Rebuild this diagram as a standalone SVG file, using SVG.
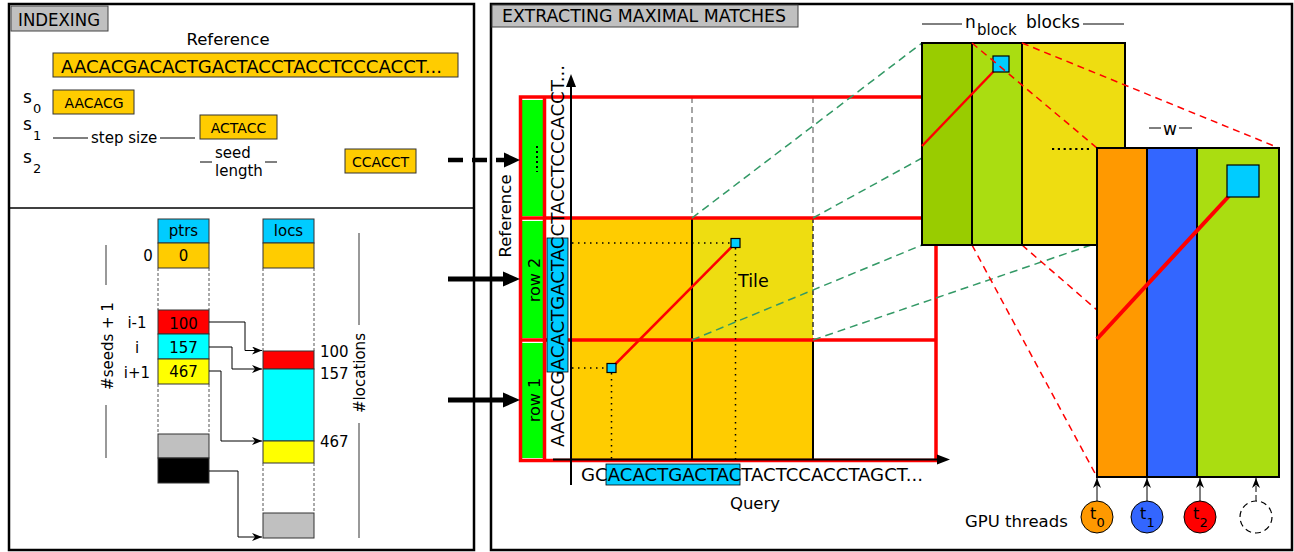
<svg xmlns="http://www.w3.org/2000/svg" width="1294" height="552" viewBox="0 0 1294 552">
<style>
text{font-family:"DejaVu Sans","Liberation Sans",sans-serif;fill:#000}
.panel{fill:none;stroke:#000;stroke-width:2.5}
.tag{fill:#c0c0c0;stroke:#444;stroke-width:1}
.seq{fill:#ffcc00;stroke:#333;stroke-width:1}
.cell{stroke:#333;stroke-width:1}
.dash{stroke:#555;stroke-width:1;stroke-dasharray:3,2;fill:none}
.thin{stroke:#000;stroke-width:1;fill:none}
.dim{stroke:#555;stroke-width:1.2}
.red{stroke:#ff0000;stroke-width:3.5;fill:none}
.dot{stroke:#000;stroke-width:1.5;stroke-dasharray:1.5,4.5;fill:none}
.gdash{stroke:#339966;stroke-width:1.5;stroke-dasharray:8,5;fill:none}
.rdash{stroke:#ff0000;stroke-width:1.5;stroke-dasharray:7,5;fill:none}
.blk{stroke:#000;stroke-width:2}
.sq{fill:#00ccff;stroke:#000;stroke-width:1.2}
</style>
<defs>
<marker id="ah" markerUnits="userSpaceOnUse" markerWidth="10" markerHeight="8" refX="10" refY="4" orient="auto">
<path d="M0,0 L10,4 L0,8 L3,4 z" fill="#000"/>
</marker>
</defs>

<!-- panels -->
<g id="indexing-panel">
<rect x="9" y="4" width="465" height="546" class="panel"/>
<line x1="9" y1="208" x2="474" y2="208" stroke="#000" stroke-width="1.5"/>
<rect x="11" y="6" width="97" height="25" class="tag"/>
<text x="18" y="26" font-size="17.5" textLength="82" lengthAdjust="spacingAndGlyphs">INDEXING</text>
</g>
<g id="matches-panel">
<rect x="491" y="4" width="801" height="546" class="panel"/>
<rect x="492" y="5" width="306" height="22" class="tag"/>
<text x="502" y="22" font-size="17.5" textLength="284" lengthAdjust="spacingAndGlyphs">EXTRACTING MAXIMAL MATCHES</text>
</g>

<!-- reference & seeds -->
<g id="reference">
<text x="228" y="45" font-size="16.5" text-anchor="middle">Reference</text>
<rect x="53" y="53" width="405" height="24" class="seq"/>
<text x="61" y="73" font-size="17.5" textLength="381" lengthAdjust="spacingAndGlyphs">AACACGACACTGACTACCTACCTCCCACCT...</text>
</g>
<g id="seed-s0">
<text x="23" y="103" font-size="17">s</text><text x="33" y="113" font-size="13">0</text>
<rect x="53" y="90" width="81" height="24" class="seq"/>
<text x="94" y="108" font-size="14" text-anchor="middle">AACACG</text>
</g>
<g id="seed-s1">
<text x="23" y="130" font-size="17">s</text><text x="33" y="140" font-size="13">1</text>
<rect x="200" y="115" width="77" height="24" class="seq"/>
<text x="238.5" y="133" font-size="14" text-anchor="middle">ACTACC</text>
</g>
<g id="seed-s2">
<text x="23" y="163" font-size="17">s</text><text x="33" y="173" font-size="13">2</text>
<rect x="345" y="149" width="71" height="24" class="seq"/>
<text x="380.5" y="167" font-size="14" text-anchor="middle">CCACCT</text>
</g>
<g id="step-size">
<line x1="53" y1="138" x2="88" y2="138" class="thin"/>
<text x="91" y="143" font-size="15">step size</text>
<line x1="160" y1="138" x2="195" y2="138" class="thin"/>
</g>
<g id="seed-length">
<line x1="200" y1="162" x2="212" y2="162" class="thin"/>
<text x="215" y="158" font-size="15">seed</text>
<text x="215" y="176" font-size="15">length</text>
<line x1="265" y1="162" x2="277" y2="162" class="thin"/>
</g>

<!-- ptrs column -->
<g id="ptrs">
<rect x="158" y="219" width="51" height="24" class="cell" fill="#00ccff"/>
<text x="183.5" y="236" font-size="15" text-anchor="middle">ptrs</text>
<rect x="158" y="243" width="51" height="25" class="cell" fill="#ffcc00"/>
<text x="183.5" y="261" font-size="15" text-anchor="middle">0</text>
<line x1="158" y1="268" x2="158" y2="310" class="dash"/><line x1="209" y1="268" x2="209" y2="310" class="dash"/>
<rect x="158" y="310" width="51" height="24" class="cell" fill="#ff0000"/>
<text x="183.5" y="329" font-size="15" text-anchor="middle">100</text>
<rect x="158" y="334" width="51" height="25" class="cell" fill="#00ffff"/>
<text x="183.5" y="353" font-size="15" text-anchor="middle">157</text>
<rect x="158" y="359" width="51" height="25" class="cell" fill="#ffff00"/>
<text x="183.5" y="377" font-size="15" text-anchor="middle">467</text>
<line x1="158" y1="384" x2="158" y2="434" class="dash"/><line x1="209" y1="384" x2="209" y2="434" class="dash"/>
<rect x="158" y="434" width="51" height="24" class="cell" fill="#c0c0c0"/>
<rect x="158" y="458" width="51" height="25" class="cell" fill="#000"/>
<text x="148" y="261" font-size="15" text-anchor="middle">0</text>
<text x="137" y="328" font-size="15" text-anchor="middle">i-1</text>
<text x="137" y="353" font-size="15" text-anchor="middle">i</text>
<text x="137" y="378" font-size="15" text-anchor="middle">i+1</text>
<line x1="106" y1="245" x2="106" y2="285" class="dim"/>
<line x1="106" y1="405" x2="106" y2="458" class="dim"/>
<text transform="translate(113,346) rotate(-90)" font-size="15" text-anchor="middle">#seeds + 1</text>
</g>

<!-- locs column -->
<g id="locs">
<rect x="263" y="219" width="51" height="24" class="cell" fill="#00ccff"/>
<text x="288.5" y="236" font-size="15" text-anchor="middle">locs</text>
<rect x="263" y="243" width="51" height="25" class="cell" fill="#ffcc00"/>
<line x1="263" y1="268" x2="263" y2="351" class="dash"/><line x1="314" y1="268" x2="314" y2="351" class="dash"/>
<rect x="263" y="351" width="51" height="18" class="cell" fill="#ff0000"/>
<rect x="263" y="369" width="51" height="72" class="cell" fill="#00ffff"/>
<rect x="263" y="441" width="51" height="22" class="cell" fill="#ffff00"/>
<line x1="263" y1="463" x2="263" y2="513" class="dash"/><line x1="314" y1="463" x2="314" y2="513" class="dash"/>
<rect x="263" y="513" width="51" height="25" class="cell" fill="#c0c0c0"/>
<text x="320" y="357" font-size="15">100</text>
<text x="320" y="379" font-size="15">157</text>
<text x="320" y="447" font-size="15">467</text>
<line x1="359" y1="233" x2="359" y2="325" class="dim"/>
<line x1="359" y1="423" x2="359" y2="538" class="dim"/>
<text transform="translate(365,373) rotate(-90)" font-size="15" text-anchor="middle">#locations</text>
</g>

<!-- grid -->
<g id="grid">
<rect x="572" y="218" width="241" height="242" fill="#ffcc00"/>
<rect x="692" y="218" width="121" height="122" fill="#eedd11"/>
<line x1="692" y1="97" x2="692" y2="218" stroke="#888" stroke-width="1.5" stroke-dasharray="6,4"/>
<line x1="813" y1="97" x2="813" y2="218" stroke="#888" stroke-width="1.5" stroke-dasharray="6,4"/>
<line x1="936" y1="97" x2="936" y2="460" stroke="#888" stroke-width="1.5" stroke-dasharray="6,4"/>
<line x1="692" y1="218" x2="692" y2="460" class="blk"/>
<line x1="813" y1="340" x2="813" y2="460" class="blk"/>
<line x1="813" y1="218" x2="813" y2="340" stroke="#333" stroke-width="1.5" stroke-dasharray="5,3"/>
<rect x="522" y="100" width="21" height="116" fill="#00ff00"/>
<rect x="522" y="221" width="21" height="117" fill="#00ff00"/>
<rect x="522" y="343" width="21" height="115" fill="#00ff00"/>
<rect x="520.5" y="97" width="415.5" height="363.5" class="red"/>
<line x1="544.5" y1="97" x2="544.5" y2="460" class="red"/>
<line x1="520" y1="218" x2="936" y2="218" class="red"/>
<line x1="520" y1="340" x2="936" y2="340" class="red"/>
<line x1="537" y1="146" x2="537" y2="172" stroke="#000" stroke-width="2" stroke-dasharray="2,3"/>
<text transform="translate(540,280) rotate(-90)" font-size="16" text-anchor="middle">row 2</text>
<text transform="translate(540,400) rotate(-90)" font-size="16" text-anchor="middle">row 1</text>
<rect x="547" y="238" width="21" height="134" fill="#00ccff" stroke="#000" stroke-width="0.8"/>
<text transform="translate(564,447) rotate(-90)" font-size="17.5" textLength="382" lengthAdjust="spacingAndGlyphs">AACACGACACTGACTACCTACCTCCCACCT...</text>
<text transform="translate(511,216) rotate(-90)" font-size="16.5" text-anchor="middle">Reference</text>
<line x1="571" y1="485" x2="571" y2="86" class="blk"/>
<polygon points="571,74 566,87 576,87" fill="#000"/>
<line x1="553" y1="459.5" x2="938" y2="459.5" class="blk"/>
<polygon points="950,459.5 937,454.5 937,464.5" fill="#000"/>
<line x1="572" y1="243" x2="731" y2="243" class="dot"/>
<line x1="735.5" y1="248" x2="735.5" y2="459" class="dot"/>
<line x1="572" y1="368" x2="607" y2="368" class="dot"/>
<line x1="611.5" y1="373" x2="611.5" y2="459" class="dot"/>
<line x1="611.5" y1="368" x2="735.5" y2="243" stroke="#ff0000" stroke-width="2.5"/>
<rect x="731" y="238.5" width="9" height="9" class="sq"/>
<rect x="607" y="363.5" width="9" height="9" class="sq"/>
<text x="738" y="287" font-size="17.5">Tile</text>
<rect x="606" y="464" width="134" height="21" fill="#00ccff" stroke="#000" stroke-width="0.8"/>
<text x="581" y="481" font-size="17.5" textLength="342" lengthAdjust="spacingAndGlyphs">GCACACTGACTACTACTCCACCTAGCT...</text>
<text x="755" y="509" font-size="16.5" text-anchor="middle">Query</text>
</g>

<!-- connectors -->
<g id="connectors">
<line x1="448" y1="160" x2="506" y2="160" stroke="#000" stroke-width="4.5" stroke-dasharray="15,9"/>
<polygon points="520,160 504,152.5 504,167.5" fill="#000"/>
<line x1="448" y1="279" x2="506" y2="279" stroke="#000" stroke-width="5"/>
<polygon points="520,279 503,271.5 503,286.5" fill="#000"/>
<line x1="448" y1="400" x2="506" y2="400" stroke="#000" stroke-width="5"/>
<polygon points="520,400 503,392.5 503,407.5" fill="#000"/>
<polyline points="209,322 245,322 245,350.5 262,350.5" class="thin" marker-end="url(#ah)"/>
<polyline points="209,347 232,347 232,369 262,369" class="thin" marker-end="url(#ah)"/>
<polyline points="209,371 221,371 221,441 262,441" class="thin" marker-end="url(#ah)"/>
<polyline points="209,471 238,471 238,537 262,537" class="thin" marker-end="url(#ah)"/>
<line x1="692" y1="218" x2="922" y2="43" class="gdash"/>
<line x1="813" y1="218" x2="922" y2="158" class="gdash"/>
<line x1="692" y1="340" x2="922" y2="245" class="gdash"/>
<line x1="813" y1="340" x2="1097" y2="243" class="gdash"/>
<line x1="972" y1="245" x2="1097" y2="477" class="rdash"/>
<line x1="1022" y1="245" x2="1097" y2="310" class="rdash"/>
</g>

<!-- block of threads -->
<g id="block">
<rect x="922" y="43" width="50" height="202" fill="#99cc00" class="blk"/>
<rect x="972" y="43" width="50" height="202" fill="#aadd11" class="blk"/>
<rect x="1022" y="43" width="103" height="202" fill="#eedd11" class="blk"/>
<line x1="922" y1="146" x2="994" y2="71" stroke="#ff0000" stroke-width="2.5"/>
<rect x="993" y="56" width="16" height="16" class="sq" stroke-width="1.5"/>
<line x1="1052" y1="149" x2="1090" y2="149" stroke="#000" stroke-width="2.2" stroke-dasharray="2.2,3.6"/>
<line x1="922" y1="24" x2="962" y2="24" class="thin"/>
<text x="965" y="28" font-size="17">n</text>
<text x="977" y="35" font-size="15">block</text>
<text x="1026" y="28" font-size="17">blocks</text>
<line x1="1083" y1="24" x2="1124" y2="24" class="thin"/>
</g>
<g id="block-zoom-lines">
<line x1="972" y1="43" x2="1097" y2="148" class="rdash"/>
<line x1="1022" y1="43" x2="1279" y2="148" class="rdash"/>
</g>

<!-- warp detail -->
<g id="warp">
<rect x="1097" y="148" width="50" height="329" fill="#ff9900" class="blk"/>
<rect x="1147" y="148" width="50" height="329" fill="#3366ff" class="blk"/>
<rect x="1197" y="148" width="82" height="329" fill="#aadd11" class="blk"/>
<line x1="1097" y1="339" x2="1229" y2="196" stroke="#ff0000" stroke-width="4"/>
<rect x="1227" y="165" width="32" height="32" class="sq" stroke-width="1.5"/>
<line x1="1149" y1="128" x2="1161" y2="128" class="thin"/>
<text x="1170" y="135" font-size="17" text-anchor="middle">w</text>
<line x1="1179" y1="128" x2="1192" y2="128" class="thin"/>
</g>

<!-- GPU threads -->
<g id="threads">
<text x="965" y="527" font-size="16.5">GPU threads</text>
</g>
<g id="thread-t0">
<line x1="1097" y1="501" x2="1097" y2="478" class="thin" marker-end="url(#ah)"/>
<circle cx="1097" cy="517" r="16" fill="#ff9900" stroke="#000" stroke-width="1"/>
<text x="1090" y="519" font-size="16">t</text><text x="1096.5" y="527" font-size="13">0</text>
</g>
<g id="thread-t1">
<line x1="1147" y1="501" x2="1147" y2="478" class="thin" marker-end="url(#ah)"/>
<circle cx="1147" cy="517" r="16" fill="#3366ff" stroke="#000" stroke-width="1"/>
<text x="1140" y="519" font-size="16">t</text><text x="1146.5" y="527" font-size="13">1</text>
</g>
<g id="thread-t2">
<line x1="1200" y1="501" x2="1200" y2="478" class="thin" marker-end="url(#ah)"/>
<circle cx="1200" cy="517" r="16" fill="#ff0000" stroke="#000" stroke-width="1"/>
<text x="1193" y="519" font-size="16">t</text><text x="1199.5" y="527" font-size="13">2</text>
</g>
<g id="thread-more">
<line x1="1256" y1="501" x2="1256" y2="478" class="thin" stroke-dasharray="6,3" marker-end="url(#ah)"/>
<circle cx="1256" cy="517" r="16" fill="#fff" stroke="#000" stroke-width="1.2" stroke-dasharray="6,4"/>
</g>
</svg>
